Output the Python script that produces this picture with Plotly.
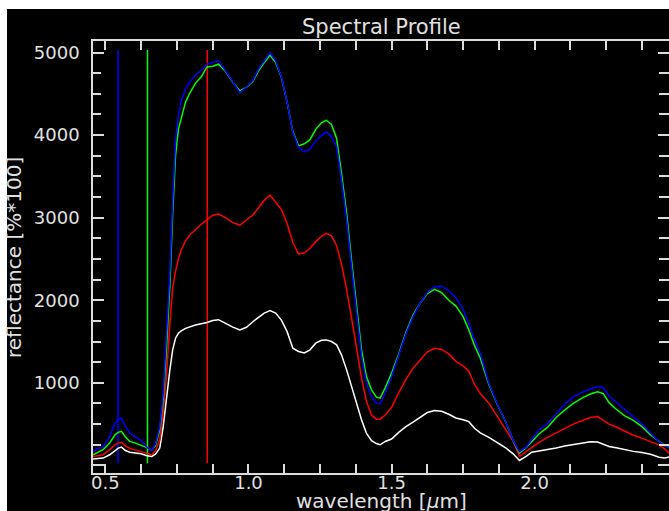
import plotly.graph_objects as go

# ---------------- data ----------------
wavelength = [0.457, 0.475, 0.492, 0.515, 0.533, 0.545, 0.556, 0.570, 0.585, 0.605,
              0.625, 0.645, 0.662, 0.675, 0.690, 0.702, 0.713, 0.725, 0.735, 0.745,
              0.755, 0.765, 0.780, 0.795, 0.815, 0.835, 0.855, 0.875, 0.895, 0.920,
              0.945, 0.970, 0.993, 1.015, 1.035, 1.055, 1.075, 1.095, 1.115, 1.135,
              1.155, 1.175, 1.195, 1.215, 1.235, 1.255, 1.272, 1.290, 1.308, 1.325,
              1.343, 1.360, 1.378, 1.395, 1.412, 1.430, 1.447, 1.460, 1.478, 1.500,
              1.525, 1.550, 1.575, 1.600, 1.625, 1.650, 1.675, 1.700, 1.725, 1.750,
              1.770, 1.790, 1.810, 1.840, 1.870, 1.900, 1.925, 1.947, 1.970, 1.990,
              2.015, 2.045, 2.075, 2.105, 2.135, 2.165, 2.195, 2.220, 2.240, 2.260,
              2.285, 2.315, 2.345, 2.375, 2.405, 2.435, 2.455, 2.475]

blue = [170, 205, 220, 350, 510, 555, 573, 470, 392, 350,
        300, 220, 182, 260, 472, 875, 1520, 2327, 3200, 3950,
        4230, 4420, 4560, 4645, 4730, 4786, 4860, 4875, 4899, 4780,
        4650, 4512, 4585, 4660, 4800, 4900, 4996, 4900, 4706, 4400,
        4030, 3850, 3798, 3830, 3930, 3995, 4040, 3980, 3860, 3456,
        2972, 2407, 1843, 1319, 996, 835, 754, 746, 880, 1077,
        1330, 1590, 1800, 1964, 2095, 2165, 2170, 2115, 2030, 1890,
        1720, 1520, 1360, 996, 740, 520, 300, 165, 220, 320,
        432, 505, 620, 740, 830, 885, 925, 956, 940, 840,
        765, 680, 595, 500, 390, 285, 240, 200]

green = [129, 160, 190, 270, 370, 400, 412, 345, 290, 270,
         245, 215, 185, 240, 432, 795, 1399, 2165, 3050, 3750,
         4070, 4210, 4400, 4510, 4630, 4706, 4826, 4834, 4859, 4770,
         4640, 4536, 4580, 4650, 4780, 4880, 4968, 4880, 4700, 4400,
         4040, 3870, 3895, 3945, 4070, 4150, 4180, 4130, 3960, 3536,
         3052, 2488, 1923, 1399, 1077, 915, 827, 815, 940, 1117,
         1350, 1610, 1820, 1964, 2080, 2133, 2093, 2000, 1930, 1802,
         1640, 1450, 1300, 980, 735, 520, 300, 150, 215, 290,
         380, 460, 580, 670, 750, 815, 865, 893, 870, 760,
         680, 600, 545, 470, 370, 290, 240, 205]

red = [109, 118, 129, 190, 250, 270, 278, 235, 205, 185,
       165, 140, 129, 175, 311, 650, 1080, 1700, 2150, 2350,
       2500, 2610, 2720, 2790, 2860, 2920, 2975, 3030, 3044, 3000,
       2940, 2911, 2972, 3030, 3120, 3210, 3274, 3190, 3100, 2930,
       2700, 2560, 2575, 2630, 2710, 2775, 2810, 2780, 2660, 2440,
       2130, 1790, 1420, 1060, 780, 610, 560, 560, 610, 700,
       880, 1040, 1177, 1280, 1375, 1419, 1405, 1350, 1260, 1205,
       1140, 980, 870, 754, 590, 440, 290, 110, 170, 220,
       280, 340, 395, 447, 500, 540, 580, 592, 550, 500,
       465, 415, 365, 330, 290, 245, 200, 125]

white = [77, 82, 89, 129, 180, 210, 222, 180, 160, 150,
         140, 118, 109, 135, 210, 470, 820, 1150, 1400, 1540,
         1600, 1630, 1660, 1681, 1700, 1715, 1730, 1755, 1765, 1720,
         1675, 1641, 1673, 1740, 1795, 1845, 1875, 1845, 1760, 1620,
         1420, 1380, 1362, 1400, 1480, 1515, 1520, 1500, 1460, 1339,
         1157, 956, 754, 552, 391, 300, 265, 250, 290, 320,
         400, 470, 525, 580, 640, 665, 655, 620, 575, 552,
         530, 450, 395, 340, 270, 210, 140, 60, 110, 160,
         175, 188, 210, 235, 250, 262, 285, 282, 260, 230,
         215, 190, 170, 155, 135, 100, 89, 105]

band_wavelengths = [0.544, 0.647, 0.856]
band_colors = ["#0000ff", "#00ff00", "#ff0000"]
band_span = [25, 5030]

series_names = ["white", "red", "green", "blue"]
series_values = [white, red, green, blue]
series_colors = ["#ffffff", "#ff0000", "#00ff00", "#0000ff"]

x_tickvals = [0.5, 1.0, 1.5, 2.0]
x_ticktext = ["0.5", "1.0", "1.5", "2.0"]
y_tickvals = [0, 1000, 2000, 3000, 4000, 5000]
y_ticktext = ["", "1000", "2000", "3000", "4000", "5000"]

X_RANGE = [0.4566, 2.4696]
Y_RANGE = [-92, 5140]

# ---------------- figure ----------------
FONT = "DejaVu Sans, sans-serif"
TXT = "#e0e0e0"
AX = "#dcdcdc"

fig = go.Figure()

for w, c in zip(band_wavelengths, band_colors):
    fig.add_trace(go.Scatter(x=[w, w], y=band_span, mode="lines",
                             line=dict(color=c, width=1.5), hoverinfo="skip"))

for name, vals, c in zip(series_names, series_values, series_colors):
    fig.add_trace(go.Scatter(x=wavelength, y=vals, mode="lines", name=name,
                             line=dict(color=c, width=1.5)))

# dummy trace for the right-hand tick axis
fig.add_trace(go.Scatter(x=[X_RANGE[0]], y=[Y_RANGE[0]], yaxis="y2", mode="markers",
                         marker=dict(opacity=0), hoverinfo="skip"))

fig.update_layout(
    width=669, height=511,
    margin=dict(l=93, r=0, t=41, b=38),
    paper_bgcolor="#ffffff",
    plot_bgcolor="#000000",
    showlegend=False,
    font=dict(family=FONT, size=18, color=TXT),
    xaxis=dict(range=X_RANGE, tickmode="array", tickvals=x_tickvals, ticktext=x_ticktext,
               ticks="inside", ticklen=9, tickwidth=1.5, tickcolor=AX,
               minor=dict(tickmode="linear", tick0=0.5, dtick=0.125, ticks="inside",
                          ticklen=5, tickwidth=1.5, tickcolor=AX),
               showline=True, linecolor=AX, linewidth=1.5, mirror="allticks",
               showgrid=False, zeroline=False, ticklabelstandoff=-7,
               tickfont=dict(family=FONT, size=18, color=TXT)),
    yaxis=dict(range=Y_RANGE, tickmode="array", tickvals=y_tickvals, ticktext=y_ticktext,
               ticks="inside", ticklen=11, tickwidth=1.5, tickcolor=AX,
               minor=dict(tickmode="linear", tick0=0, dtick=250, ticks="inside",
                          ticklen=8, tickwidth=1.5, tickcolor=AX),
               showline=True, linecolor=AX, linewidth=1.5, mirror=False,
               showgrid=False, zeroline=False, ticklabelstandoff=8,
               tickfont=dict(family=FONT, size=18, color=TXT)),
    yaxis2=dict(range=Y_RANGE, overlaying="y", side="right", tickmode="array",
                tickvals=y_tickvals, ticks="inside", ticklen=11, tickwidth=1.5,
                tickcolor=AX, showticklabels=False, showline=False, showgrid=False,
                zeroline=False,
                minor=dict(tickmode="linear", tick0=0, dtick=250, ticks="inside",
                           ticklen=10, tickwidth=1.5, tickcolor=AX)),
    shapes=[dict(type="rect", xref="paper", yref="paper", x0=-0.1493, x1=1.05,
                 y0=-0.2, y1=1.0741, fillcolor="#000000", line=dict(width=0),
                 layer="below")],
    annotations=[
        dict(text="Spectral Profile", xref="paper", yref="paper", x=0.5, y=1.0324,
             xanchor="center", yanchor="middle", showarrow=False,
             font=dict(family=FONT, size=21, color=TXT)),
        dict(text="wavelength [<i>μ</i>m]", xref="paper", yref="paper", x=0.5, y=-0.0648,
             xanchor="center", yanchor="middle", showarrow=False,
             font=dict(family=FONT, size=20, color=TXT)),
        dict(text="reflectance [%*100]", xref="paper", yref="paper", x=-0.1372, y=0.5,
             xanchor="center", yanchor="middle", textangle=-90, showarrow=False,
             font=dict(family=FONT, size=20, color=TXT)),
    ],
)

fig.write_html("out.html")
